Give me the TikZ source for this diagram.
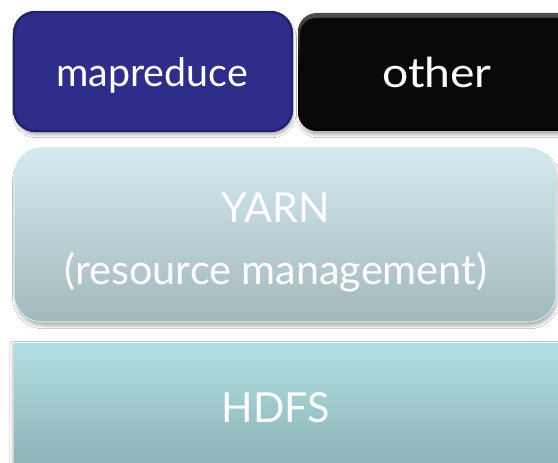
\documentclass[tikz,border=0pt]{standalone}
\usepackage{fontspec}
\setmainfont{Lato}
\usetikzlibrary{shadows.blur}
\definecolor{mrfill}{HTML}{2E2E8A}
\definecolor{mrline}{HTML}{22226C}
\definecolor{yarntop}{HTML}{D4EAEE}
\definecolor{yarnbot}{HTML}{A3B8BB}
\definecolor{yarnline}{HTML}{CFE8EC}
\definecolor{hdfstop}{HTML}{B0DFE3}
\definecolor{hdfsbot}{HTML}{86AAAD}
\tikzset{
  lbl/.style={text=white, anchor=base, inner sep=0pt, font=\fontsize{31}{38}\selectfont, align=center},
  softshadow/.style={blur shadow={shadow xshift=1pt, shadow yshift=-3pt, shadow blur steps=8, shadow opacity=30}},
}
\begin{document}
\begin{tikzpicture}[x=0.75pt, y=-0.75pt]
\useasboundingbox (0,0) rectangle (558,463);
\fill[white] (0,0) rectangle (558,463);

% top row: mapreduce and other
\draw[softshadow, fill=mrfill, draw=mrline, line width=1.8pt, rounded corners=16pt]
  (14,12) rectangle (292,131);
\shade[softshadow, top color=black!70, bottom color=black, middle color=black, rounded corners=14pt]
  (298,13) rectangle (585,131);
\fill[black!97, rounded corners=12pt] (300,18) rectangle (585,129);

% YARN layer
\shade[softshadow, top color=yarntop, bottom color=yarnbot, rounded corners=21pt]
  (14,148) rectangle (556,322);
\draw[yarnline, line width=0.8pt, rounded corners=21pt] (14,148) rectangle (556,322);

% HDFS layer
\shade[blur shadow={shadow xshift=-1pt, shadow yshift=0pt, shadow opacity=25}, top color=hdfstop, bottom color=hdfsbot]
  (14,344) rectangle (590,490);

% labels
\node[lbl, font=\fontsize{29.5}{36}\selectfont] (mr) at (152,87) {mapreduce};
\node[lbl, xscale=1.12] (other) at (437,88) {other};
\node[lbl] (yarn) at (276,223) {YARN};
\node[lbl] (res) at (276,285) {(resource management)};
\node[lbl] (hdfs) at (276,423) {HDFS};
\end{tikzpicture}
\end{document}
